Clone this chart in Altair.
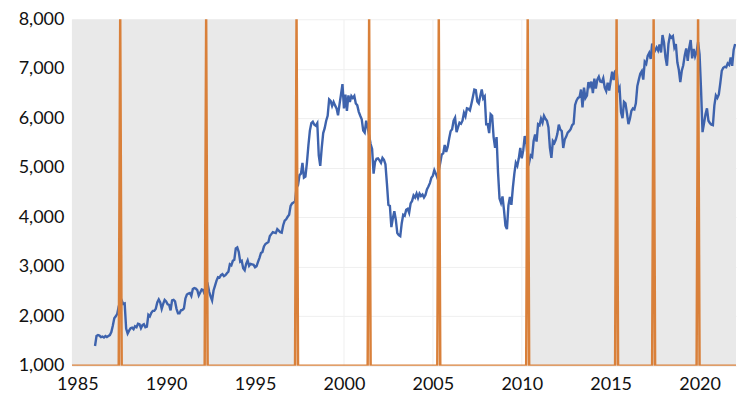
import altair as alt
import pandas as pd

# Monthly index values (Jan..Dec)
ftse_1986_1990 = [
    1400, 1600, 1620, 1610, 1580, 1590, 1570, 1600, 1580, 1600, 1620, 1680,
    1810, 1960, 2000, 2050, 2200, 2280, 2320, 2250, 2260, 1750, 1650, 1710,
    1760, 1770, 1740, 1800, 1780, 1850, 1840, 1760, 1820, 1840, 1780, 1790,
    2030, 2000, 2070, 2110, 2110, 2150, 2280, 2340, 2280, 2150, 2250, 2330,
    2300, 2240, 2230, 2120, 2320, 2330, 2300, 2150, 2060, 2060, 2120, 2130,
]
ftse_1991_1995 = [
    2160, 2360, 2440, 2460, 2470, 2410, 2550, 2570, 2560, 2530, 2420, 2480,
    2540, 2530, 2440, 2630, 2650, 2500, 2400, 2320, 2520, 2620, 2720, 2790,
    2780, 2830, 2850, 2810, 2830, 2870, 2900, 3050, 3030, 3120, 3140, 3370,
    3390, 3300, 3100, 3120, 2970, 2930, 3060, 3130, 3020, 3060, 3050, 3040,
    2990, 3010, 3100, 3180, 3280, 3300, 3410, 3460, 3480, 3500, 3620, 3660,
]
ftse_1996_2000 = [
    3700, 3690, 3680, 3760, 3730, 3700, 3690, 3840, 3930, 3960, 4010, 4050,
    4230, 4280, 4300, 4320, 4600, 4650, 4850, 4880, 5100, 4800, 4820, 5100,
    5450, 5750, 5900, 5930, 5870, 5850, 5900, 5250, 5040, 5400, 5700, 5800,
    5950, 6050, 6380, 6350, 6250, 6330, 6260, 6200, 6060, 6280, 6480, 6690,
    6200, 6480, 6150, 6460, 6330, 6450, 6410, 6450, 6300, 6260, 6130, 6050,
]
ftse_2001_2005 = [
    5980, 5750, 5710, 5950, 5820, 5650, 5480, 5380, 4880, 5120, 5180, 5190,
    5150, 5100, 5200, 5160, 5070, 4680, 4250, 4230, 3800, 3980, 4120, 3950,
    3680, 3640, 3620, 3880, 4050, 4030, 4150, 4170, 4090, 4280, 4330, 4440,
    4400, 4480, 4390, 4480, 4430, 4460, 4400, 4450, 4560, 4620, 4690, 4800,
    4840, 4950, 4880, 4800, 4950, 5100, 5270, 5290, 5460, 5320, 5420, 5590,
]
ftse_2006_2010 = [
    5740, 5780, 5950, 6010, 5720, 5820, 5910, 5890, 5950, 6110, 6040, 6200,
    6190, 6160, 6290, 6430, 6580, 6570, 6340, 6300, 6450, 6580, 6400, 6440,
    5880, 5880, 5700, 6080, 6050, 5620, 5400, 5620, 4900, 4380, 4290, 4420,
    4150, 3830, 3760, 4240, 4410, 4250, 4600, 4880, 5100, 5040, 5190, 5400,
    5190, 5350, 5640, 5550, 5190, 5110, 5250, 5220, 5540, 5670, 5530, 5880,
]
ftse_2011_2015 = [
    5860, 5990, 5910, 6050, 5990, 5950, 5820, 5400, 5200, 5540, 5500, 5570,
    5680, 5870, 5770, 5740, 5400, 5570, 5630, 5710, 5740, 5780, 5860, 5890,
    6270, 6360, 6410, 6430, 6580, 6220, 6620, 6410, 6460, 6730, 6650, 6740,
    6510, 6800, 6600, 6780, 6840, 6740, 6730, 6810, 6620, 6550, 6720, 6560,
    6750, 6940, 6770, 6950, 6980, 6560, 6620, 6120, 6000, 6330, 6300, 6100,
]
ftse_2016_2020 = [
    5880, 5990, 6150, 6200, 6180, 6300, 6650, 6780, 6900, 6950, 6780, 7140,
    7100, 7260, 7320, 7200, 7510, 7310, 7370, 7430, 7370, 7490, 7330, 7680,
    7530, 7230, 7060, 7500, 7670, 7630, 7660, 7430, 7500, 7130, 6980, 6730,
    6960, 7070, 7270, 7410, 7160, 7420, 7580, 7210, 7400, 7250, 7340, 7540,
    7290, 6580, 5720, 5900, 6080, 6200, 5950, 5900, 5870, 5860, 6260, 6460,
]
ftse_2021_2022 = [
    6410, 6480, 6710, 6960, 7020, 7040, 7030, 7110, 7080, 7230, 7060, 7380,
    7500,
]

# UK general elections (year, month)
election_year = [1987, 1992, 1997, 2001, 2005, 2010, 2015, 2017, 2019]
election_month = [6, 4, 5, 6, 5, 5, 5, 6, 12]

# Governing party periods (shaded = Conservative)
period_start = [1979.33, 1997.33, 2010.35]
period_end = [1997.33, 2010.35, 2024.0]
period_party = ["Conservative", "Labour", "Conservative"]

x_min, x_max = 1984.7, 2022.05
y_min, y_max = 1000, 8000

# ---- build tables ----
values = (ftse_1986_1990 + ftse_1991_1995 + ftse_1996_2000 + ftse_2001_2005
          + ftse_2006_2010 + ftse_2011_2015 + ftse_2016_2020 + ftse_2021_2022)
line_df = pd.DataFrame({
    "t": [1986 + i / 12 for i in range(len(values))],
    "v": values,
})

spk_t = [x_min]
spk_v = [y_min]
for yy, mm in zip(election_year, election_month):
    t = yy + (mm - 1) / 12
    spk_t += [t - 1 / 12, t, t + 1 / 12]
    spk_v += [y_min, y_max, y_min]
spk_t.append(x_max)
spk_v.append(y_min)
spike_df = pd.DataFrame({"t": spk_t, "v": spk_v, "o": range(len(spk_t))})

gov_df = pd.DataFrame({
    "s": period_start, "e": period_end, "party": period_party,
    "lo": y_min, "hi": y_max,
})
gov_df = gov_df[gov_df["party"] == "Conservative"]

xscale = alt.Scale(domain=[x_min, x_max], nice=False, zero=False)
yscale = alt.Scale(domain=[y_min, y_max], nice=False, zero=False)

xaxis = alt.Axis(values=list(range(1985, 2021, 5)), format="d", title=None,
                 grid=True, gridColor="#efefef", domain=False, ticks=False,
                 labelPadding=10, labelFontSize=18, labelFont="Lato",
                 labelColor="#111111", labelFlush=False)
yaxis = alt.Axis(values=list(range(1000, 8001, 1000)), format=",d", title=None,
                 grid=True, gridColor="#efefef", domain=False, ticks=False,
                 labelPadding=8, labelFontSize=18, labelFont="Lato",
                 labelColor="#111111")

shade = alt.Chart(gov_df).mark_rect(color="#e9e9e9", clip=True).encode(
    x=alt.X("s:Q", scale=xscale, axis=xaxis),
    x2="e:Q",
    y=alt.Y("lo:Q", scale=yscale, axis=yaxis),
    y2="hi:Q",
)

blue = alt.Chart(line_df).mark_line(color="#3e63ad", strokeWidth=2.4, clip=True).encode(
    x=alt.X("t:Q", scale=xscale),
    y=alt.Y("v:Q", scale=yscale),
)

orange = alt.Chart(spike_df).mark_line(color="#d9803a", strokeWidth=2.5, clip=True,
                                       strokeJoin="round").encode(
    x=alt.X("t:Q", scale=xscale),
    y=alt.Y("v:Q", scale=yscale),
    order="o:Q",
)

chart = alt.layer(shade, blue, orange).properties(
    width=665, height=347,
    autosize=alt.AutoSizeParams(type="none"),
    padding={"left": 64, "top": 11, "right": 10, "bottom": 30},
).configure_view(stroke=None)

chart.save("out.html", embed_options={"renderer": "svg", "actions": False})
